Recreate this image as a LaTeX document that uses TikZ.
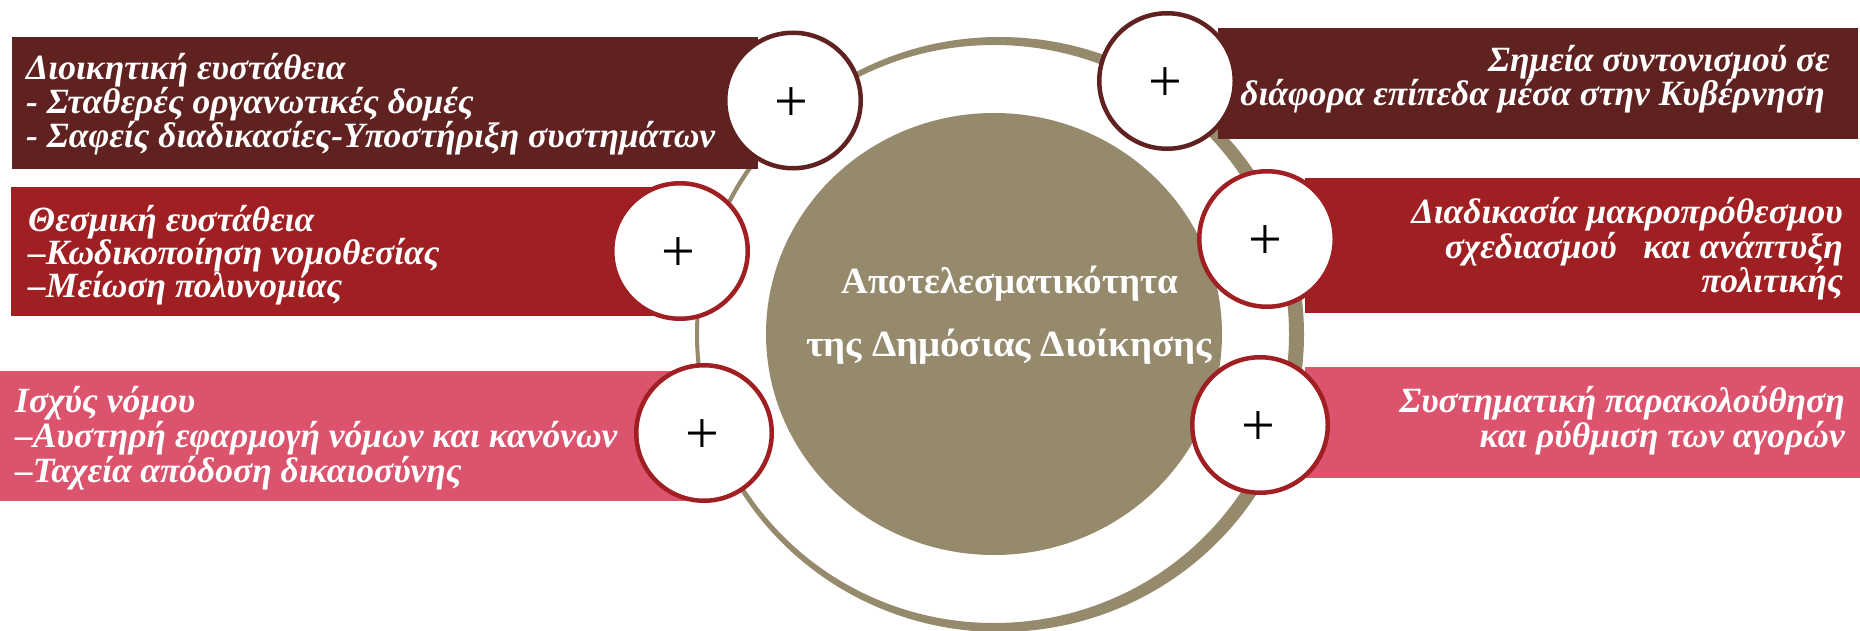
\documentclass[tikz,border=0pt]{standalone}
\usepackage{fontspec}
\setmainfont{Liberation Serif}
\newfontfamily\bxfont{Liberation Serif}
\newfontfamily\ctfont{Liberation Serif}
\newfontfamily\plusfont{Liberation Serif}
\definecolor{maroon}{RGB}{96,34,32}
\definecolor{deepred}{RGB}{160,31,34}
\definecolor{rosepink}{RGB}{219,83,108}
\definecolor{khaki}{RGB}{150,138,108}
\tikzset{
  boxshape/.style={rectangle, inner sep=0pt, outer sep=0pt, draw=none, anchor=north west},
  pluscircle/.style={circle, fill=white, draw=#1, line width=4.5pt, minimum size=135.5pt, inner sep=0pt},
  ltxt/.style={anchor=base west, inner sep=0pt, text=white, font=\bxfont\bfseries\itshape\fontsize{35.5}{37}\selectfont},
  rtxt/.style={ltxt, anchor=base east},
  plussign/.style={inner sep=0pt, text=black, font=\plusfont\fontsize{60}{60}\selectfont},
  ctxt/.style={anchor=base, inner sep=0pt, text=white, font=\ctfont\bfseries\fontsize{37}{39}\selectfont}
}
\begin{document}
\begin{tikzpicture}[x=1pt,y=-1pt]
\useasboundingbox (0,0) rectangle (1860,631);
% outer ring and central disc
\fill[khaki, even odd rule] (999.5,334.5) ellipse [x radius=304.5, y radius=297.5]
                            (994,334) ellipse [x radius=295, y radius=289];
\fill[khaki] (994,334) ellipse [x radius=228, y radius=221];
% boxes
\node[boxshape, fill=maroon,   minimum width=746pt, minimum height=132pt] (b1) at (12,37) {};
\node[boxshape, fill=maroon,   minimum width=640pt, minimum height=111pt] (b2) at (1218,28) {};
\node[boxshape, fill=deepred,  minimum width=555pt, minimum height=135pt] (b3) at (1305,178) {};
\node[boxshape, fill=rosepink, minimum width=555pt, minimum height=111pt] (b4) at (1305,367) {};
\node[boxshape, fill=deepred,  minimum width=654pt, minimum height=129pt] (b5) at (11,187) {};
\node[boxshape, fill=rosepink, minimum width=690pt, minimum height=130pt] (b6) at (0,371) {};
% circles
\node[pluscircle=maroon]  (c1) at (793,100.5) {};
\node[pluscircle=maroon]  (c2) at (1167,81) {};
\node[pluscircle=deepred] (c3) at (1267,239) {};
\node[pluscircle=deepred] (c4) at (1260,425) {};
\node[pluscircle=deepred] (c5) at (680,251) {};
\node[pluscircle=deepred] (c6) at (704,433) {};
% plus signs
\node[plussign] (p1) at (791,104.5) {+};
\node[plussign] (p2) at (1165,85) {+};
\node[plussign] (p3) at (1265,243) {+};
\node[plussign] (p4) at (1258,429) {+};
\node[plussign] (p5) at (678,255) {+};
\node[plussign] (p6) at (702,437) {+};
% left texts
\node[ltxt] (t1a) at (26,80)  {Διοικητική ευστάθεια};
\node[ltxt] (t1b) at (26,114) {- Σταθερές οργανωτικές δομές};
\node[ltxt] (t1c) at (26,148) {- Σαφείς διαδικασίες-Υποστήριξη συστημάτων};
\node[ltxt] (t5a) at (28,231) {Θεσμική ευστάθεια};
\node[ltxt] (t5b) at (28,264) {–Κωδικοποίηση νομοθεσίας};
\node[ltxt] (t5c) at (28,297) {–Μείωση πολυνομίας};
\node[ltxt] (t6a) at (15,412) {Ισχύς νόμου};
\node[ltxt] (t6b) at (15,447) {–Αυστηρή εφαρμογή νόμων και κανόνων};
\node[ltxt] (t6c) at (15,482) {–Ταχεία απόδοση δικαιοσύνης};
% right texts
\node[rtxt] (t2a) at (1830,72)  {Σημεία συντονισμού σε};
\node[rtxt] (t2b) at (1825,106) {διάφορα επίπεδα μέσα στην Κυβέρνηση};
\node[rtxt] (t3a) at (1843,223) {Διαδικασία μακροπρόθεσμου};
\node[rtxt] (t3b) at (1843,258) {σχεδιασμού\ \ \ και ανάπτυξη};
\node[rtxt] (t3c) at (1843,292) {πολιτικής};
\node[rtxt] (t4a) at (1845,412) {Συστηματική παρακολούθηση};
\node[rtxt] (t4b) at (1845,447) {και ρύθμιση των αγορών};
% centre text
\node[ctxt] (m1) at (1010,293) {Αποτελεσματικότητα};
\node[ctxt] (m2) at (1009,356) {\scalebox{1.05}[1]{της Δημόσιας Διοίκησης}};
\end{tikzpicture}
\end{document}
